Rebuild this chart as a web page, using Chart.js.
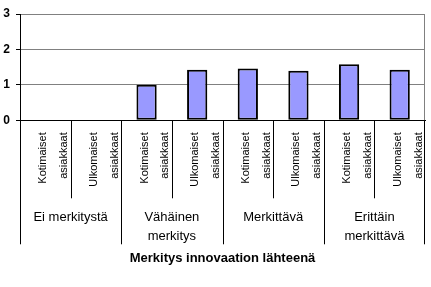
<!DOCTYPE html>
<html>
<head>
<meta charset="utf-8">
<script src="https://cdn.jsdelivr.net/npm/chart.js@4"></script>
<style>
  body { margin: 0; background: #fff; }
</style>
</head>
<body>
<canvas id="myChart" width="431" height="287"></canvas>
<script>

const categories = [
  ['Kotimaiset', 'asiakkaat'],
  ['Ulkomaiset', 'asiakkaat'],
  ['Kotimaiset', 'asiakkaat'],
  ['Ulkomaiset', 'asiakkaat'],
  ['Kotimaiset', 'asiakkaat'],
  ['Ulkomaiset', 'asiakkaat'],
  ['Kotimaiset', 'asiakkaat'],
  ['Ulkomaiset', 'asiakkaat'],
];

const groups = [
  ['Ei merkitystä'],
  ['Vähäinen', 'merkitys'],
  ['Merkittävä'],
  ['Erittäin', 'merkittävä'],
];

const values = [0, 0, 1.00, 1.43, 1.46, 1.40, 1.58, 1.43];

const yMin = 0;
const yMax = 3;
const yStep = 1;

const axisTitle = 'Merkitys innovaation lähteenä';

const FONT = 'Arial, "Liberation Sans", sans-serif';

// lines below the x axis: short ones between bars, long ones between groups
const separators = {
  id: 'separators',
  afterDraw(chart) {
    const ctx = chart.ctx;
    const area = chart.chartArea;
    const x = chart.scales.x;
    const step = x.getPixelForValue(1) - x.getPixelForValue(0);
    const start = x.getPixelForValue(0) - step / 2;

    ctx.save();
    ctx.lineWidth = 1;

    // right border of the plot
    ctx.strokeStyle = '#808080';
    ctx.beginPath();
    ctx.moveTo(Math.round(area.right) - 0.5, area.top);
    ctx.lineTo(Math.round(area.right) - 0.5, area.bottom);
    ctx.stroke();

    ctx.strokeStyle = '#000';
    for (let i = 0; i <= categories.length; i++) {
      let px = Math.round(start + i * step) + 0.5;
      if (i == categories.length) px -= 1;
      const len = i % 2 == 0 ? 124 : 78;
      ctx.beginPath();
      ctx.moveTo(px, area.bottom);
      ctx.lineTo(px, area.bottom + len);
      ctx.stroke();
    }
    ctx.restore();
  }
};

const data = {
  labels: categories,
  datasets: [{
    data: values,
    backgroundColor: '#9999FF',
    borderColor: '#000000',
    borderWidth: 2,
    borderSkipped: false,
    barPercentage: 0.4,
    categoryPercentage: 1,
  }]
};

const noPadding = (scale) => {
  scale.paddingLeft = 0;
  scale.paddingRight = 0;
};

const config = {
  type: 'bar',
  data: data,
  options: {
    responsive: false,
    devicePixelRatio: 1,
    animation: false,
    layout: {
      padding: { left: 0, right: 6, top: 14, bottom: 17 }
    },
    plugins: {
      legend: { display: false },
      tooltip: { enabled: false },
    },
    scales: {
      y: {
        min: yMin,
        max: yMax,
        afterFit: (scale) => { scale.width = 20; },
        ticks: {
          stepSize: yStep,
          color: '#000',
          padding: 6,
          font: { family: FONT, size: 12, weight: 'bold' },
        },
        grid: {
          color: (c) => c.tick && c.tick.value === 0 ? '#000' : '#808080',
          tickColor: '#000',
          tickLength: 4,
        },
        border: { color: '#000', width: 1 },
      },
      x: {
        weight: 0,
        offset: true,
        afterFit: noPadding,
        grid: { display: false, drawTicks: false },
        border: { color: '#000', width: 1 },
        ticks: {
          autoSkip: false,
          minRotation: 90,
          maxRotation: 90,
          padding: 12,
          labelOffset: -2,
          color: '#000',
          font: { family: FONT, size: 11, lineHeight: 1.9 },
        },
      },
      x2: {
        type: 'category',
        position: 'bottom',
        weight: 1,
        labels: groups,
        offset: true,
        afterFit: noPadding,
        grid: { display: false, drawTicks: false },
        border: { display: false },
        ticks: {
          autoSkip: false,
          maxRotation: 0,
          padding: 9,
          color: '#000',
          font: { family: FONT, size: 13, lineHeight: 1.45 },
        },
        title: {
          display: true,
          text: axisTitle,
          color: '#000',
          padding: { top: -4, bottom: 4 },
          font: { family: FONT, size: 13, weight: 'bold' },
        },
      },
    }
  },
  plugins: [separators]
};

const myChart = new Chart(
  document.getElementById('myChart'),
  config
);

</script>
</body>
</html>
